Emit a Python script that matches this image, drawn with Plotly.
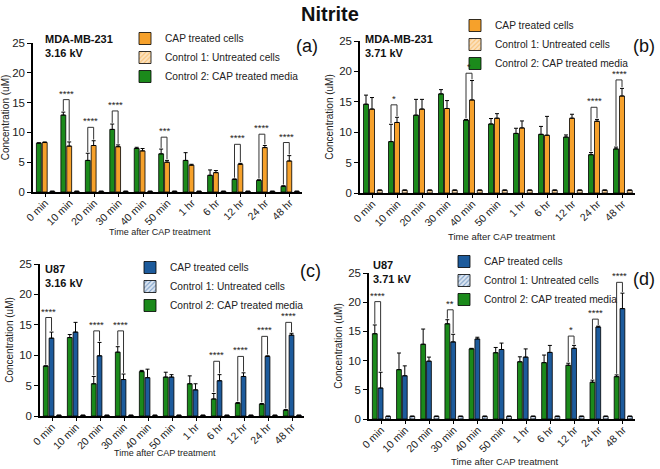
import plotly.graph_objects as go

categories = ["0 min", "10 min", "20 min", "30 min", "40 min", "50 min",
              "1 hr", "6 hr", "12 hr", "24 hr", "48 hr"]

# Control 2: CAP treated media
media_316 = [8.2, 12.9, 5.3, 10.5, 7.3, 6.4, 5.3, 2.8, 2.1, 1.95, 0.95]
media_316_err = [0.05, 0.5, 1.2, 0.9, 0.2, 0.8, 1.3, 0.9, 0.1, 0.1, 0.1]
media_371 = [14.6, 8.45, 12.8, 16.3, 12.0, 11.35, 9.8, 9.65, 9.2, 6.3, 7.25]
media_371_err = [1.5, 2.85, 2.6, 0.7, 0.1, 0.9, 0.85, 1.3, 0.35, 0.35, 0.3]

# CAP treated cells
mda_316 = [8.3, 7.7, 7.8, 7.6, 6.9, 5.0, 4.5, 3.25, 4.65, 7.45, 5.2]
mda_316_err = [0.1, 0.7, 0.8, 0.3, 0.4, 0.3, 0.15, 0.35, 0.15, 0.35, 0.9]
mda_371 = [13.8, 11.6, 13.8, 13.9, 15.3, 12.3, 10.7, 9.5, 12.3, 11.8, 15.95]
mda_371_err = [1.9, 0.85, 1.6, 1.3, 3.2, 0.75, 1.15, 3.1, 0.65, 0.3, 1.25]
u87_316 = [12.8, 13.8, 9.9, 6.0, 6.3, 6.4, 4.3, 5.8, 6.5, 9.8, 13.3]
u87_316_err = [1.0, 1.6, 2.2, 0.9, 1.4, 0.4, 1.0, 1.0, 0.6, 0.1, 0.3]
u87_371 = [5.3, 7.4, 9.9, 13.2, 13.7, 11.9, 10.6, 11.4, 12.1, 15.75, 18.9]
u87_371_err = [2.7, 1.7, 0.7, 1.3, 0.3, 1.1, 1.4, 1.2, 0.5, 0.15, 2.65]

# Control 1: untreated cells
ctrl1_316 = [0.1, 0.1, 0.1, 0.1, 0.1, 0.1, 0.1, 0.1, 0.1, 0.1, 0.1]
ctrl1_371 = [0.45, 0.45, 0.45, 0.45, 0.45, 0.45, 0.45, 0.45, 0.45, 0.45, 0.45]
ctrl1_err = [0.05, 0.05, 0.05, 0.05, 0.05, 0.05, 0.05, 0.05, 0.05, 0.05, 0.05]

# significance brackets: category index, bracket height, label
sig_a_idx = [1, 2, 3, 5, 8, 9, 10]
sig_a_top = [15.5, 10.85, 13.6, 9.2, 8.0, 9.7, 8.3]
sig_a_lbl = ["****", "****", "****", "***", "****", "****", "****"]
sig_b_idx = [1, 4, 9, 10]
sig_b_top = [14.5, 19.7, 14.1, 18.6]
sig_b_lbl = ["*", "*", "****", "****"]
sig_c_idx = [0, 2, 3, 7, 8, 9, 10]
sig_c_top = [16.2, 14.0, 14.0, 9.0, 9.8, 13.1, 15.4]
sig_c_lbl = ["****", "****", "****", "****", "****", "****", "****"]
sig_d_idx = [0, 3, 8, 9, 10]
sig_d_top = [20.1, 18.7, 14.2, 17.1, 23.4]
sig_d_lbl = ["****", "**", "*", "****", "****"]

GREEN = "#1b8a1b"
ORANGE = "#f6a12b"
BLUE = "#1d5b9c"
FONT = "Liberation Sans, Arial, sans-serif"
W = 0.2
OFF_G, OFF_T, OFF_C = -0.36, -0.12, 0.19

W_PX, H_PX = 660, 469

def px_x(a, b):
    return [a / W_PX, b / W_PX]

def px_y(top, bottom):
    return [1 - bottom / H_PX, 1 - top / H_PX]

panels = [
    dict(key="", x=px_x(33, 302), y=px_y(43, 192), media=media_316, merr=media_316_err,
         cells=mda_316, cerr=mda_316_err, ctrl=ctrl1_316, col=ORANGE, pat_bg="#fbe2c0",
         sig=(sig_a_idx, sig_a_top, sig_a_lbl), legend="legend",
         lg=(125, 24), label=("MDA-MB-231", "3.16 kV"), lab_xy=(43, 31),
         tag="(a)", tag_xy=(320, 46), xt=(160, 232, 9)),
    dict(key="2", x=px_x(360, 635), y=px_y(41, 193), media=media_371, merr=media_371_err,
         cells=mda_371, cerr=mda_371_err, ctrl=ctrl1_371, col=ORANGE, pat_bg="#fbe2c0",
         sig=(sig_b_idx, sig_b_top, sig_b_lbl), legend="legend2",
         lg=(455, 11), label=("MDA-MB-231", "3.71 kV"), lab_xy=(363, 31),
         tag="(b)", tag_xy=(657, 46), xt=(502, 237, 9.5)),
    dict(key="3", x=px_x(40, 304), y=px_y(264, 416), media=media_316, merr=media_316_err,
         cells=u87_316, cerr=u87_316_err, ctrl=ctrl1_316, col=BLUE, pat_bg="#dde6f2",
         sig=(sig_c_idx, sig_c_top, sig_c_lbl), legend="legend3",
         lg=(130, 253), label=("U87", "3.16 kV"), lab_xy=(43, 261),
         tag="(c)", tag_xy=(323, 271), xt=(165, 453, 9)),
    dict(key="4", x=px_x(369, 635), y=px_y(273, 419), media=media_371, merr=media_371_err,
         cells=u87_371, cerr=u87_371_err, ctrl=ctrl1_371, col=BLUE, pat_bg="#dde6f2",
         sig=(sig_d_idx, sig_d_top, sig_d_lbl), legend="legend4",
         lg=(444, 247), label=("U87", "3.71 kV"), lab_xy=(371, 257),
         tag="(d)", tag_xy=(657, 279), xt=(505, 461, 9.5)),
]

fig = go.Figure()
shapes = []
annotations = []
layout = {}

for p in panels:
    xa, ya = "x" + p["key"], "y" + p["key"]
    line = dict(color="black", width=0.8)
    eb = lambda arr: dict(type="data", symmetric=False, array=arr,
                          arrayminus=[0] * len(arr), color="black", thickness=1, width=2)
    fig.add_trace(go.Bar(x=categories, y=p["media"], error_y=eb(p["merr"]),
                         name="Control 2: CAP treated media", marker=dict(color=GREEN, line=line),
                         width=W, offset=OFF_G, xaxis=xa, yaxis=ya, legend=p["legend"], legendrank=3))
    fig.add_trace(go.Bar(x=categories, y=p["cells"], error_y=eb(p["cerr"]),
                         name="CAP treated cells", marker=dict(color=p["col"], line=line),
                         width=W, offset=OFF_T, xaxis=xa, yaxis=ya, legend=p["legend"], legendrank=1))
    fig.add_trace(go.Bar(x=categories, y=p["ctrl"], error_y=eb(ctrl1_err),
                         name="Control 1: Untreated cells",
                         marker=dict(color=p["pat_bg"], line=line,
                                     pattern=dict(shape="/", fgcolor=p["col"], bgcolor=p["pat_bg"],
                                                  size=4, solidity=0.35)),
                         width=W, offset=OFF_C, xaxis=xa, yaxis=ya, legend=p["legend"], legendrank=2))

    axis_common = dict(showline=True, linecolor="black", linewidth=1.5, ticks="outside",
                       tickcolor="black", tickwidth=1.2, showgrid=False, zeroline=False,
                       automargin=True)
    layout["xaxis" + p["key"]] = dict(axis_common, domain=p["x"], anchor=ya, ticklen=3,
                                      type="category", range=[-0.5, 10.5], tickangle=-45,
                                      ticklabelstandoff=-4,
                                      tickfont=dict(family=FONT, size=10.5, color="#222"))
    layout["yaxis" + p["key"]] = dict(axis_common, domain=p["y"], anchor=xa, ticklen=4,
                                      range=[0, 25], tickvals=[0, 5, 10, 15, 20, 25],
                                      tickfont=dict(family=FONT, size=11.5, color="#222"),
                                      title=dict(text="Concentration (uM)",
                                                 font=dict(family=FONT, size=10, color="#222"),
                                                 standoff=4))
    layout[p["legend"]] = dict(x=p["lg"][0] / W_PX, y=1 - p["lg"][1] / H_PX,
                               xanchor="left", yanchor="top", bgcolor="rgba(0,0,0,0)",
                               font=dict(family=FONT, size=10.2, color="#222"),
                               itemwidth=30, traceorder="normal")

    idx, tops, lbls = p["sig"]
    for i, top, lbl in zip(idx, tops, lbls):
        xl = i + OFF_G + W / 2
        xr = i + OFF_T + W / 2
        yl = p["media"][i] + p["merr"][i] + 0.2
        yr = p["cells"][i] + p["cerr"][i] + 0.2
        for (x0, y0, x1, y1) in [(xl, yl, xl, top), (xl, top, xr, top), (xr, top, xr, yr)]:
            shapes.append(dict(type="line", xref=xa, yref=ya, x0=x0, y0=y0, x1=x1, y1=y1,
                               line=dict(color="#333", width=1)))
        annotations.append(dict(x=(xl + xr) / 2, y=top, xref=xa, yref=ya, text=lbl,
                                showarrow=False, yanchor="bottom", yshift=-1,
                                font=dict(family=FONT, size=9.5, color="#222")))

    annotations.append(dict(x=p["lab_xy"][0] / W_PX, y=1 - p["lab_xy"][1] / H_PX,
                            xref="paper", yref="paper", xanchor="left", yanchor="top",
                            align="left", showarrow=False,
                            text="<b>%s</b><br><b>%s</b>" % p["label"],
                            font=dict(family=FONT, size=11, color="#111")))
    annotations.append(dict(x=p["tag_xy"][0] / W_PX, y=1 - p["tag_xy"][1] / H_PX,
                            xref="paper", yref="paper", xanchor="right", yanchor="middle",
                            showarrow=False, text=p["tag"],
                            font=dict(family=FONT, size=18, color="#111")))
    annotations.append(dict(x=p["xt"][0] / W_PX, y=1 - p["xt"][1] / H_PX,
                            xref="paper", yref="paper", xanchor="center", yanchor="middle",
                            showarrow=False, text="Time after CAP treatment",
                            font=dict(family=FONT, size=p["xt"][2], color="#222")))

annotations.append(dict(x=0.5, y=1 - 14 / H_PX, xref="paper", yref="paper",
                        text="<b>Nitrite</b>", showarrow=False, yanchor="middle",
                        font=dict(family=FONT, size=20, color="#111")))

fig.update_layout(width=W_PX, height=H_PX, margin=dict(l=0, r=0, t=0, b=0, autoexpand=False),
                  paper_bgcolor="white", plot_bgcolor="white", barmode="overlay",
                  shapes=shapes, annotations=annotations, showlegend=True, **layout)

fig.write_html("out.html", config={"displayModeBar": False},
               post_script="document.body.style.margin='0';document.body.style.overflow='hidden';")
